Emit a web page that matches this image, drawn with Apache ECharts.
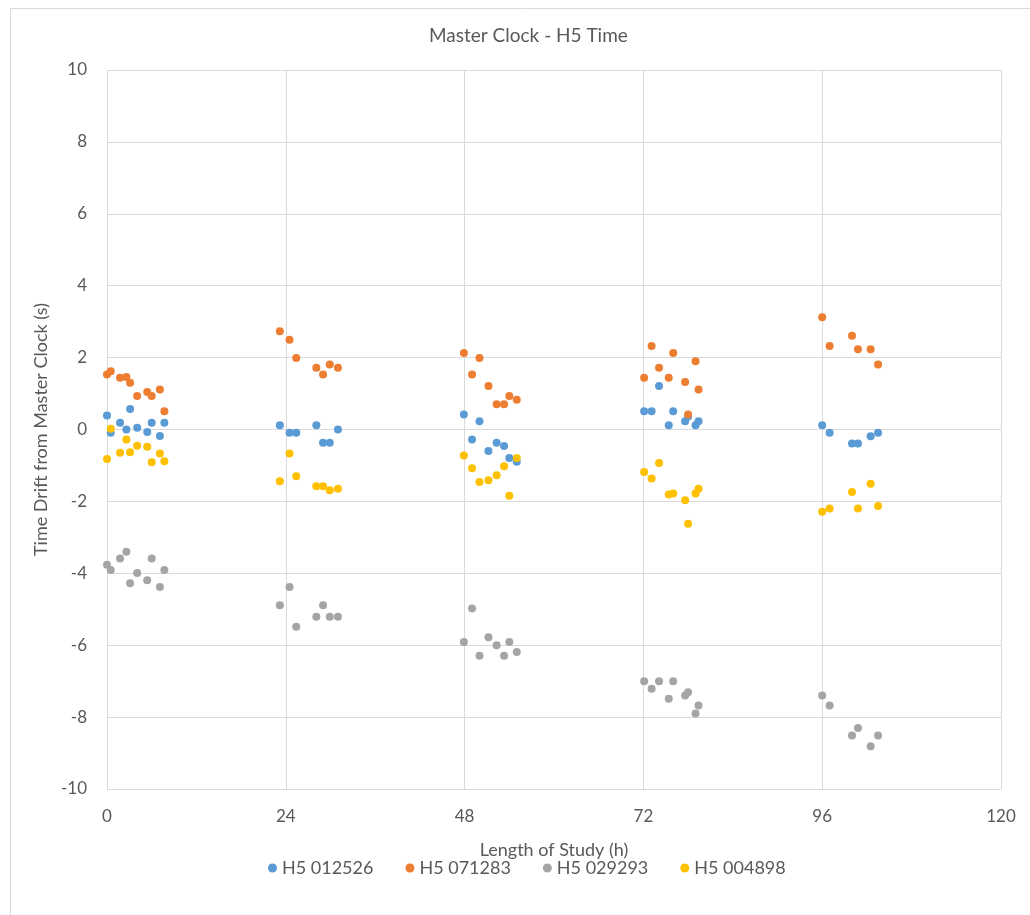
<!DOCTYPE html>
<html>
<head>
<meta charset="utf-8">
<script src="https://cdn.jsdelivr.net/npm/echarts@6/dist/echarts.min.js"></script>
<style>
  html, body { margin: 0; padding: 0; background: #ffffff; }
  #chart { width: 1030px; height: 915px; }
</style>
</head>
<body>
<div id="chart"></div>
<script>
// Sampling times (hours) for each measurement block
const hours = [
  0, 0.5, 1.75, 2.6, 3.1, 4.05, 5.4, 6.0, 7.1, 7.7,
  23.2, 24.5, 25.4, 28.1, 29.0, 29.9, 31.0,
  47.9, 49.0, 50.0, 51.2, 52.3, 53.3, 54.0, 55.0,
  72.1, 73.1, 74.1, 75.4, 76.0, 77.6, 78.0, 79.0, 79.4,
  96.0, 97.0, 100.0, 100.8, 102.5, 103.5
];

// Drift of each H5 unit relative to the master clock (seconds)
const driftH5_012526 = [
  0.39, -0.09, 0.19, 0.0, 0.57, 0.05, -0.07, 0.19, -0.18, 0.19,
  0.12, -0.09, -0.09, 0.12, -0.37, -0.37, 0.0,
  0.42, -0.28, 0.23, -0.60, -0.37, -0.46, -0.79, -0.90,
  0.51, 0.51, 1.21, 0.12, 0.51, 0.23, 0.36, 0.12, 0.23,
  0.12, -0.09, -0.39, -0.39, -0.19, -0.09
];
const driftH5_071283 = [
  1.53, 1.62, 1.44, 1.46, 1.30, 0.93, 1.04, 0.93, 1.11, 0.51,
  2.73, 2.50, 1.99, 1.72, 1.53, 1.81, 1.72,
  2.13, 1.53, 1.99, 1.21, 0.70, 0.70, 0.93, 0.83,
  1.44, 2.32, 1.72, 1.44, 2.13, 1.32, 0.42, 1.90, 1.11,
  3.12, 2.32, 2.61, 2.23, 2.23, 1.81
];
const driftH5_029293 = [
  -3.76, -3.91, -3.59, -3.40, -4.28, -3.99, -4.19, -3.59, -4.38, -3.91,
  -4.89, -4.38, -5.49, -5.21, -4.89, -5.21, -5.21,
  -5.91, -4.98, -6.29, -5.78, -6.00, -6.29, -5.91, -6.19,
  -7.00, -7.21, -7.00, -7.49, -7.00, -7.40, -7.31, -7.90, -7.68,
  -7.40, -7.68, -8.51, -8.30, -8.81, -8.51
];
const driftH5_004898 = [
  -0.82, 0.02, -0.65, -0.28, -0.63, -0.45, -0.48, -0.91, -0.67, -0.88,
  -1.44, -0.67, -1.30, -1.58, -1.58, -1.69, -1.65,
  -0.72, -1.08, -1.46, -1.41, -1.27, -1.02, -1.84, -0.79,
  -1.18, -1.36, -0.93, -1.81, -1.78, -1.97, -2.62, -1.78, -1.65,
  -2.29, -2.20, -1.74, -2.20, -1.51, -2.13
];

const seriesNames = ['H5 012526', 'H5 071283', 'H5 029293', 'H5 004898'];
const seriesValues = [driftH5_012526, driftH5_071283, driftH5_029293, driftH5_004898];
const seriesColors = ['#5B9BD5', '#ED7D31', '#A5A5A5', '#FFC000'];

const xTicks = { min: 0, max: 120, interval: 24 };
const yTicks = { min: -10, max: 10, interval: 2 };

const FONT = 'Lato, "Open Sans", sans-serif';
const TEXT = '#595959';
const GRID = '#d9d9d9';

const chart = echarts.init(document.getElementById('chart'), null, { renderer: 'canvas' });

chart.setOption({
  backgroundColor: '#ffffff',
  animation: false,
  textStyle: { fontFamily: FONT },
  graphic: [{
    type: 'rect',
    shape: { x: 10.5, y: 8.5, width: 1040, height: 1000 },
    style: { fill: 'none', stroke: GRID, lineWidth: 1 },
    silent: true, z: -1
  }],
  title: {
    text: 'Master Clock - H5 Time',
    left: 424,
    top: 21,
    textStyle: { fontFamily: FONT, fontSize: 19, fontWeight: 'normal', color: TEXT }
  },
  legend: {
    bottom: 33,
    left: 263,
    itemGap: 32,
    itemWidth: 9,
    itemHeight: 9,
    icon: 'circle',
    textStyle: { fontFamily: FONT, fontSize: 18, color: TEXT },
    data: seriesNames
  },
  grid: { left: 107, right: 29, top: 70, bottom: 126 },
  xAxis: {
    type: 'value',
    min: xTicks.min, max: xTicks.max, interval: xTicks.interval,
    name: 'Length of Study (h)',
    nameLocation: 'middle',
    nameGap: 52,
    nameTextStyle: { fontFamily: FONT, fontSize: 18, color: TEXT },
    axisLine: { show: false },
    axisTick: { show: false },
    axisLabel: { fontFamily: FONT, fontSize: 17, color: TEXT, margin: 19 },
    splitLine: { show: true, lineStyle: { color: GRID, width: 1 } }
  },
  yAxis: {
    type: 'value',
    min: yTicks.min, max: yTicks.max, interval: yTicks.interval,
    name: 'Time Drift from Master Clock (s)',
    nameLocation: 'middle',
    nameGap: 52,
    nameTextStyle: { fontFamily: FONT, fontSize: 18, color: TEXT },
    axisLine: { show: false },
    axisTick: { show: false },
    axisLabel: { fontFamily: FONT, fontSize: 17, color: TEXT, margin: 20 },
    splitLine: { show: true, lineStyle: { color: GRID, width: 1 } }
  },
  series: seriesNames.map((name, i) => ({
    name: name,
    type: 'scatter',
    symbol: 'circle',
    symbolSize: 8,
    itemStyle: { color: seriesColors[i], opacity: 1 },
    data: hours.map((h, k) => [h, seriesValues[i][k]])
  }))
});
</script>
</body>
</html>
